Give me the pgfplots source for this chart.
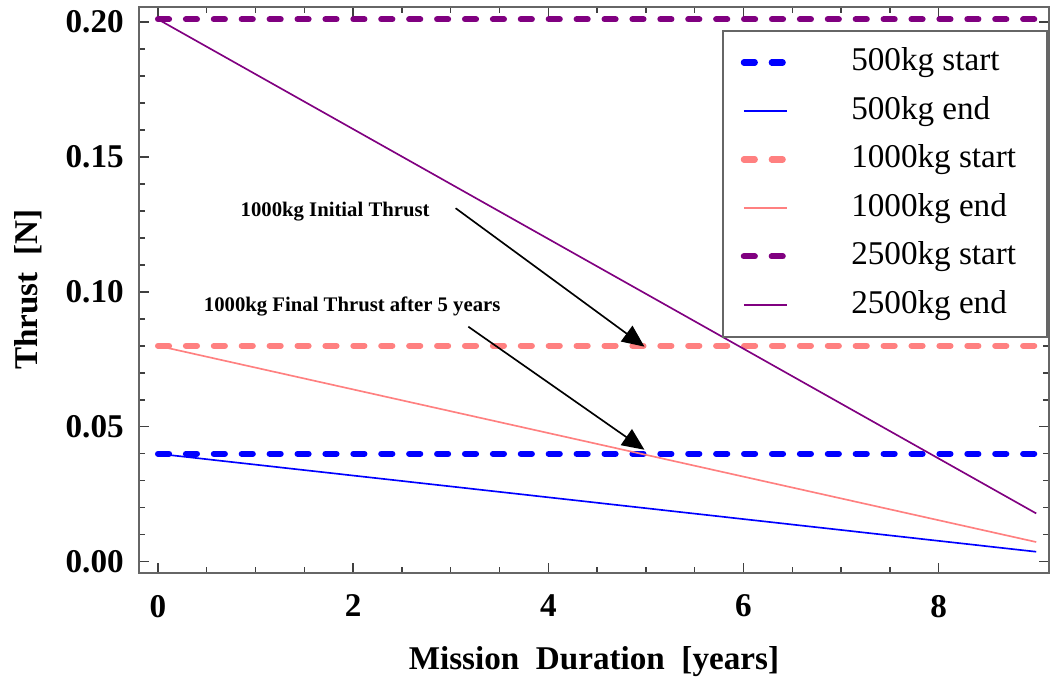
\documentclass[border=0pt]{standalone}
\usepackage{fontspec}
\setmainfont{Liberation Serif}
\usepackage{pgfplots}
\pgfplotsset{compat=1.18}
\usetikzlibrary{arrows.meta}
\definecolor{mblue}{rgb}{0,0,1}
\definecolor{mpink}{rgb}{1,0.5,0.5}
\definecolor{mpurple}{rgb}{0.5,0,0.5}
\newcommand{\legtxt}[1]{\makebox[64.4pt][l]{#1}}
\begin{document}
\begin{tikzpicture}
\begin{axis}[
 scale only axis, width=329.3pt, height=204.8pt,
 xmin=-0.195, xmax=9.13, ymin=-0.0041, ymax=0.2056,
 xtick={0,2,4,6,8}, minor x tick num=3,
 ytick={0,0.05,0.1,0.15,0.2}, minor y tick num=4,
 scaled y ticks=false,
 tick align=inside,
 major tick length=3.6pt, minor tick length=2.2pt,
 axis line style={gray!80!black, line width=0.6pt},
 tick style={black!75, line width=0.5pt},
 /pgf/number format/assume math mode=true,
 ticklabel style={font=\fontsize{12}{14}\selectfont\bfseries},
 yticklabel style={/pgf/number format/.cd, fixed, fixed zerofill, precision=2, /tikz/.cd, xshift=-2pt},
 xticklabel style={yshift=-4.5pt},
 xlabel={Mission\ \ Duration\ \ [years]},
 ylabel={Thrust\ \ [N]},
 label style={font=\fontsize{12}{14}\selectfont\bfseries},
 xlabel style={at={(axis description cs:0.5,-0.157)}, anchor=center},
 ylabel style={at={(axis description cs:-0.122,0.5)}, anchor=center},
 legend style={at={(axis description cs:0.6407,0.9594)}, anchor=north west,
   draw=gray!80!black, line width=0.6pt, fill=white,
   font=\fontsize{12}{14}\selectfont, inner xsep=6.5pt, inner ysep=6pt,
   row sep=6.55pt,
   nodes={inner sep=0pt, text height=8.5pt, text depth=2.5pt},
   /tikz/every odd column/.append style={column sep=22.2pt}},
 legend cell align=left,
 legend image code/.code={\draw[#1] (0pt,0pt) -- (15.6pt,0pt);},
]
\addplot[mblue, line width=2.2pt, line cap=round, dash pattern=on 4pt off 6.1pt] coordinates {(0,0.04) (9,0.04)};
\addlegendentry{\legtxt{500kg start}}
\addplot[mblue, line width=0.6pt] coordinates {(0,0.04) (9,0.0037)};
\addlegendentry{\legtxt{500kg end}}
\addplot[mpink, line width=2.2pt, line cap=round, dash pattern=on 4pt off 6.1pt] coordinates {(0,0.08) (9,0.08)};
\addlegendentry{\legtxt{1000kg start}}
\addplot[mpink, line width=0.6pt] coordinates {(0,0.08) (9,0.0073)};
\addlegendentry{\legtxt{1000kg end}}
\addplot[mpurple, line width=2.2pt, line cap=round, dash pattern=on 4pt off 6.1pt] coordinates {(0,0.201) (9,0.201)};
\addlegendentry{\legtxt{2500kg start}}
\addplot[mpurple, line width=0.6pt] coordinates {(0,0.201) (9,0.0179)};
\addlegendentry{\legtxt{2500kg end}}
\node[font=\fontsize{7.5}{9}\selectfont\bfseries] at (axis cs:1.815,0.1296) {1000kg Initial Thrust};
\node[font=\fontsize{7.5}{9}\selectfont\bfseries] at (axis cs:1.99,0.0944) {1000kg Final Thrust after 5 years};
\draw[-{Triangle[length=8pt,width=7pt]}, line width=0.6pt] (axis cs:3.05,0.131) -- (axis cs:4.985,0.0797);
\draw[-{Triangle[length=8pt,width=7pt]}, line width=0.6pt] (axis cs:3.18,0.0871) -- (axis cs:4.985,0.0415);
\end{axis}
\pgfresetboundingbox
\path[use as bounding box] ([shift={(-50.3pt,-40.2pt)}]current axis.south west) rectangle ([shift={(0.4pt,2.5pt)}]current axis.north east);
\end{tikzpicture}
\end{document}
